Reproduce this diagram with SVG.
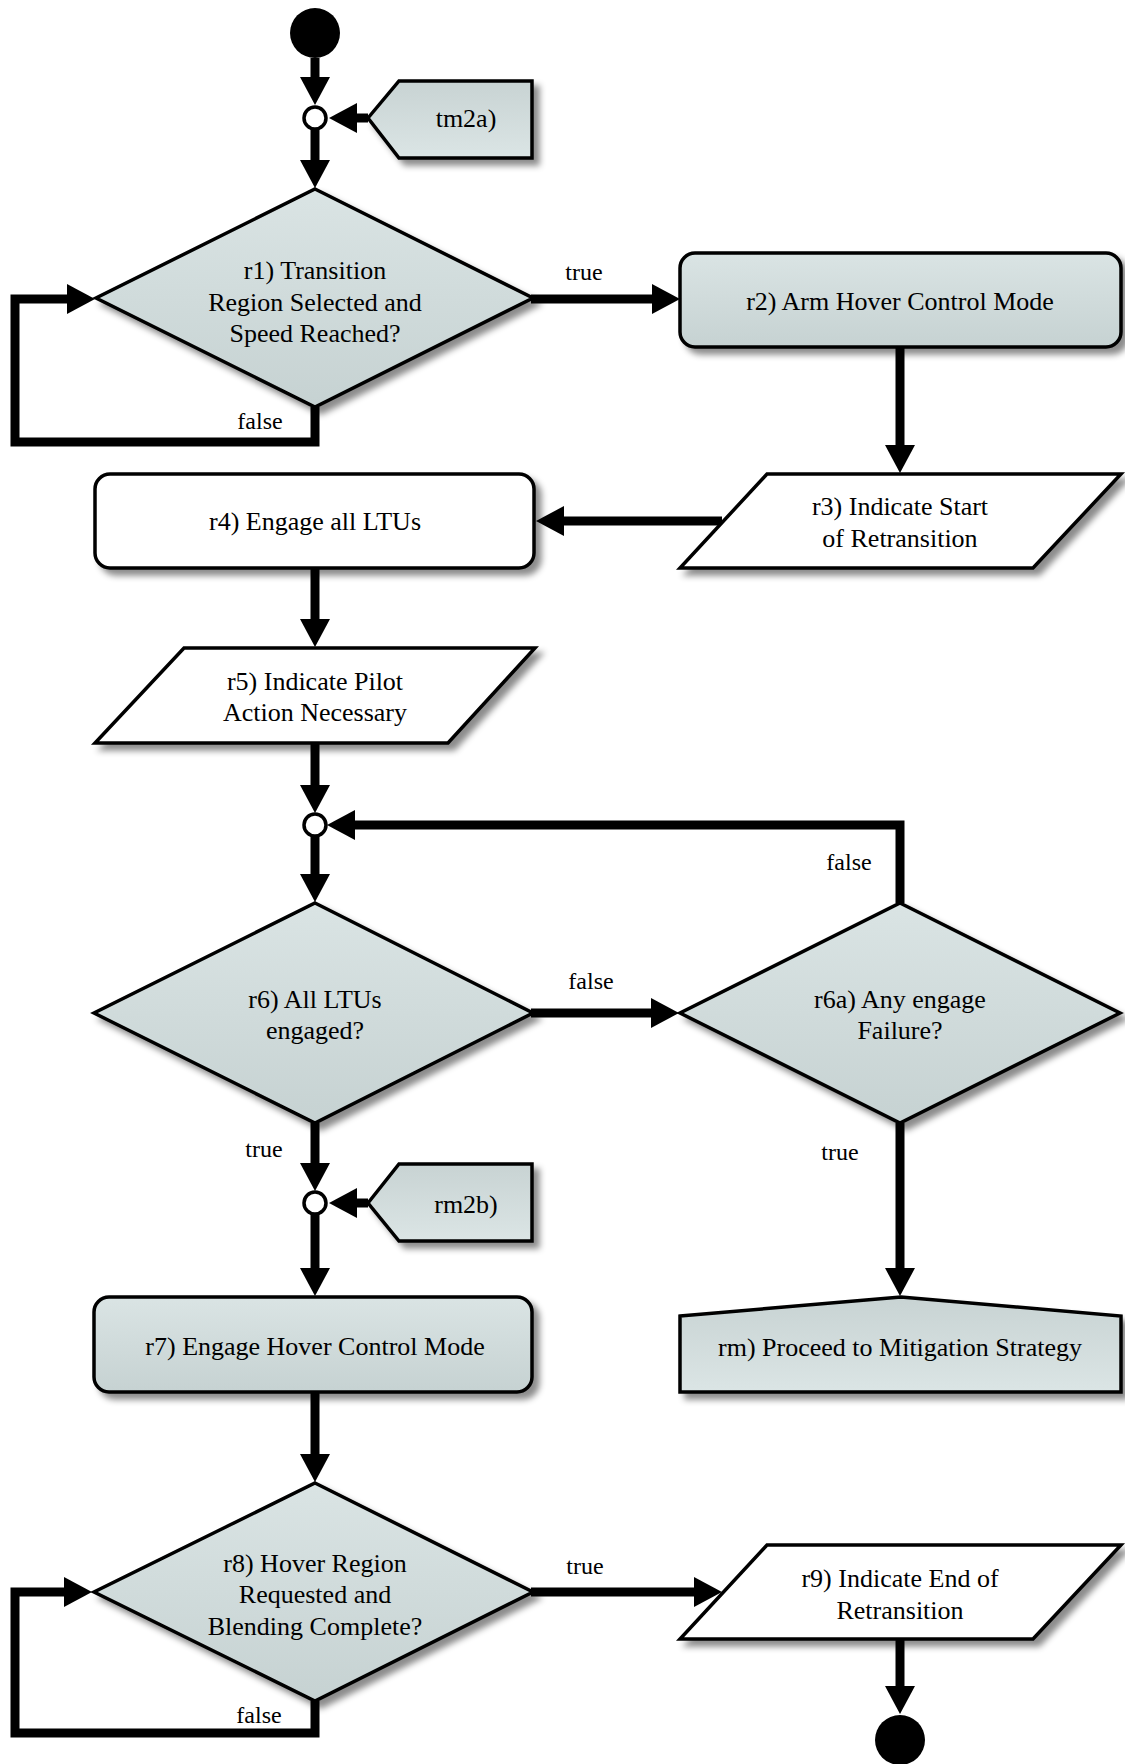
<svg xmlns="http://www.w3.org/2000/svg" width="1125" height="1764" viewBox="0 0 1125 1764">
  <defs>
    <linearGradient id="fillDown" x1="0" y1="0" x2="0" y2="1">
      <stop offset="0" stop-color="#dae4e4"/>
      <stop offset="1" stop-color="#c6d2d2"/>
    </linearGradient>
    <linearGradient id="fillUp" x1="0" y1="0" x2="0" y2="1">
      <stop offset="0" stop-color="#c8d3d3"/>
      <stop offset="1" stop-color="#dbe5e5"/>
    </linearGradient>
    <filter id="shadow" x="-10%" y="-10%" width="130%" height="140%">
      <feDropShadow dx="6" dy="6" stdDeviation="3" flood-color="#000" flood-opacity="0.45"/>
    </filter>
    <marker id="arrow" markerUnits="userSpaceOnUse" markerWidth="30" markerHeight="30" refX="1" refY="15" orient="auto">
      <path d="M0,0 L28,15 L0,30 z" fill="#000"/>
    </marker>
  </defs>
  <style>
    .shape { stroke: #000; stroke-width: 3.5; stroke-linejoin: miter; filter: url(#shadow); }
    .grey { fill: url(#fillDown); }
    .greyUp { fill: url(#fillUp); }
    .white { fill: #fff; }
    .lbl { font-family: "Liberation Serif", "Times New Roman", serif; font-size: 26px; fill: #000; text-anchor: middle; }
    .edge { font-family: "Liberation Serif", "Times New Roman", serif; font-size: 24px; fill: #000; text-anchor: middle; }
    .conn { fill: none; stroke: #000; stroke-width: 9; stroke-linejoin: miter; stroke-linecap: butt; marker-end: url(#arrow); }
    .junction { fill: #fff; stroke: #000; stroke-width: 3.5; }
  </style>

  <!-- connectors -->
  <g id="connectors">
    <path class="conn" d="M315,58 V78"/>
    <path class="conn" d="M368,118 H356"/>
    <path class="conn" d="M315,129 V161"/>
    <path class="conn" d="M315,407 V442 H15 V299 H68"/>
    <path class="conn" d="M531,299 H653"/>
    <path class="conn" d="M900,347 V446"/>
    <path class="conn" d="M722,521 H563"/>
    <path class="conn" d="M315,568 V620"/>
    <path class="conn" d="M315,743 V786"/>
    <path class="conn" d="M900,903 V825 H354"/>
    <path class="conn" d="M315,836 V875"/>
    <path class="conn" d="M531,1013 H652"/>
    <path class="conn" d="M315,1123 V1164"/>
    <path class="conn" d="M368,1203 H356"/>
    <path class="conn" d="M315,1214 V1269"/>
    <path class="conn" d="M900,1123 V1269"/>
    <path class="conn" d="M315,1392 V1455"/>
    <path class="conn" d="M315,1701 V1733 H15 V1592 H65"/>
    <path class="conn" d="M531,1592 H695"/>
    <path class="conn" d="M900,1639 V1687"/>
    <text class="edge" x="584" y="280">true</text>
    <text class="edge" x="260" y="429">false</text>
    <text class="edge" x="849" y="870">false</text>
    <text class="edge" x="591" y="989">false</text>
    <text class="edge" x="264" y="1157">true</text>
    <text class="edge" x="840" y="1160">true</text>
    <text class="edge" x="585" y="1574">true</text>
    <text class="edge" x="259" y="1723">false</text>
  </g>

  <!-- start / end -->
  <g id="start"><circle cx="315" cy="33" r="25" fill="#000"/></g>
  <g id="end"><circle cx="900" cy="1740" r="25" fill="#000"/></g>

  <!-- merge points -->
  <g id="merge1"><circle class="junction" cx="315" cy="118" r="11"/></g>
  <g id="merge2"><circle class="junction" cx="315" cy="825" r="11"/></g>
  <g id="merge3"><circle class="junction" cx="315" cy="1203" r="11"/></g>

  <!-- off-page entries -->
  <g id="tm2a">
    <polygon class="shape greyUp" points="368,118 399,81 532,81 532,158 399,158"/>
    <text class="lbl" x="466" y="127">tm2a)</text>
  </g>
  <g id="rm2b">
    <polygon class="shape greyUp" points="368,1203 399,1164 532,1164 532,1241 399,1241"/>
    <text class="lbl" x="466" y="1213">rm2b)</text>
  </g>

  <!-- r1 decision -->
  <g id="r1">
    <polygon class="shape grey" points="315,189 533,298 315,407 96,298"/>
    <text class="lbl" x="315" y="279">r1) Transition</text>
    <text class="lbl" x="315" y="310.5">Region Selected and</text>
    <text class="lbl" x="315" y="342">Speed Reached?</text>
  </g>

  <!-- r2 -->
  <g id="r2">
    <rect class="shape grey" x="680" y="253" width="441" height="94" rx="15" ry="15"/>
    <text class="lbl" x="900" y="310">r2) Arm Hover Control Mode</text>
  </g>

  <!-- r3 -->
  <g id="r3">
    <polygon class="shape white" points="767,474 1121,474 1033,568 680,568"/>
    <text class="lbl" x="900" y="515">r3) Indicate Start</text>
    <text class="lbl" x="900" y="547">of Retransition</text>
  </g>

  <!-- r4 -->
  <g id="r4">
    <rect class="shape white" x="95" y="474" width="439" height="94" rx="15" ry="15"/>
    <text class="lbl" x="315" y="530">r4) Engage all LTUs</text>
  </g>

  <!-- r5 -->
  <g id="r5">
    <polygon class="shape white" points="184,648 535,648 448,743 95,743"/>
    <text class="lbl" x="315" y="690">r5) Indicate Pilot</text>
    <text class="lbl" x="315" y="721">Action Necessary</text>
  </g>

  <!-- r6 decision -->
  <g id="r6">
    <polygon class="shape grey" points="315,903 533,1013 315,1123 94,1013"/>
    <text class="lbl" x="315" y="1008">r6) All LTUs</text>
    <text class="lbl" x="315" y="1039">engaged?</text>
  </g>

  <!-- r6a decision -->
  <g id="r6a">
    <polygon class="shape grey" points="900,903 1120,1013 900,1123 680,1013"/>
    <text class="lbl" x="900" y="1008">r6a) Any engage</text>
    <text class="lbl" x="900" y="1039">Failure?</text>
  </g>

  <!-- r7 -->
  <g id="r7">
    <rect class="shape grey" x="94" y="1297" width="438" height="95" rx="15" ry="15"/>
    <text class="lbl" x="315" y="1355">r7) Engage Hover Control Mode</text>
  </g>

  <!-- rm -->
  <g id="rm">
    <polygon class="shape greyUp" points="680,1316 901,1297 1121,1316 1121,1392 680,1392"/>
    <text class="lbl" x="900" y="1356">rm) Proceed to Mitigation Strategy</text>
  </g>

  <!-- r8 decision -->
  <g id="r8">
    <polygon class="shape grey" points="315,1483 533,1592 315,1701 94,1592"/>
    <text class="lbl" x="315" y="1572">r8) Hover Region</text>
    <text class="lbl" x="315" y="1603">Requested and</text>
    <text class="lbl" x="315" y="1635">Blending Complete?</text>
  </g>

  <!-- r9 -->
  <g id="r9">
    <polygon class="shape white" points="767,1545 1121,1545 1033,1639 680,1639"/>
    <text class="lbl" x="900" y="1587">r9) Indicate End of</text>
    <text class="lbl" x="900" y="1619">Retransition</text>
  </g>
</svg>
